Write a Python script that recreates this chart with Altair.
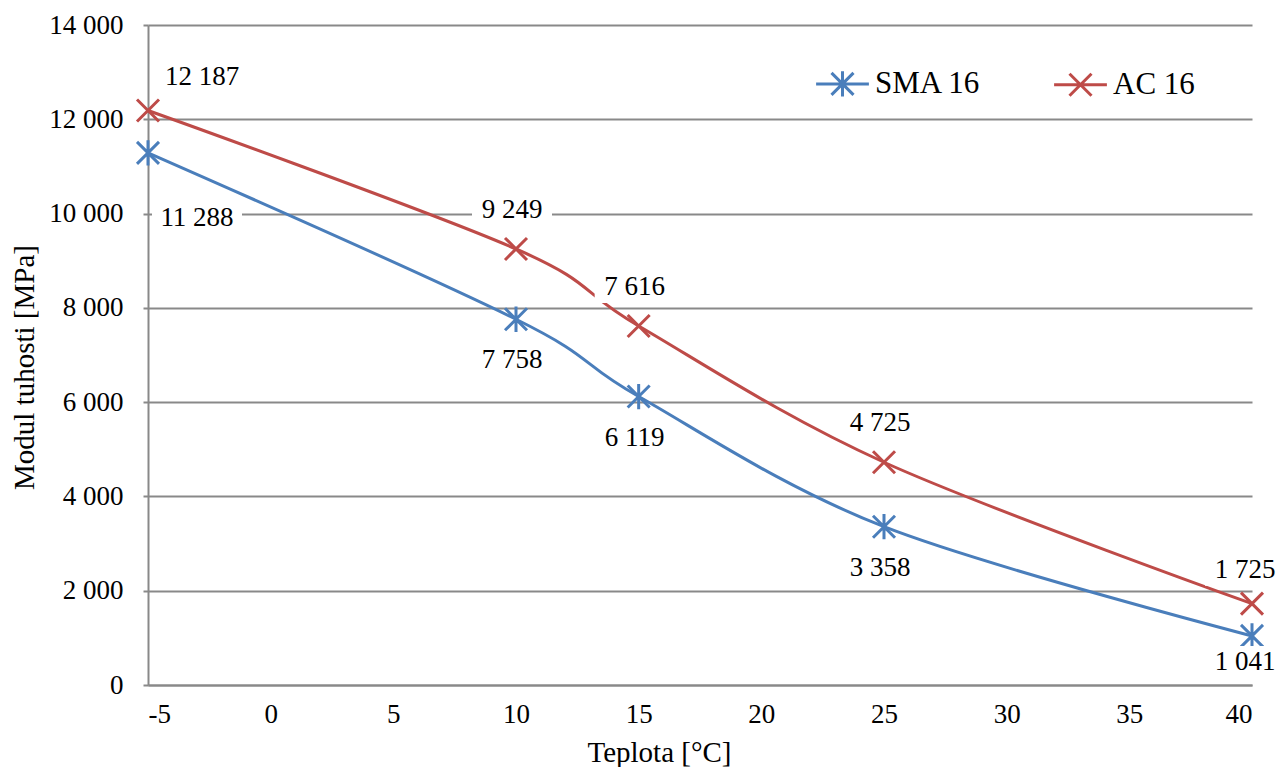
import altair as alt
import pandas as pd

# ---- data ----
temps = [-5, 10, 15, 25, 40]
sma_values = [11288, 7758, 6119, 3358, 1041]
ac_values = [12187, 9249, 7616, 4725, 1725]
series_names = ["SMA 16", "AC 16"]
series_colors = ["#4A7EBB", "#BE4B48"]
x_ticks = [-5, 0, 5, 10, 15, 20, 25, 30, 35, 40]
y_ticks = [0, 2000, 4000, 6000, 8000, 10000, 12000, 14000]

rows = []
for t, v in zip(temps, sma_values):
    rows.append({"series": "SMA 16", "temp": t, "value": v})
for t, v in zip(temps, ac_values):
    rows.append({"series": "AC 16", "temp": t, "value": v})
df = pd.DataFrame(rows)

FONT = "Liberation Serif"
GRID = "#898989"

# marker shapes (unit square paths)
X_PATH = "M-1,-1L1,1M1,-1L-1,1"
AST_PATH = "M-1,-1L1,1M1,-1L-1,1M0,-1.15L0,1.15"
# legend symbols: marker with a line through it
X_LEG = "M-1,-1L1,1M1,-1L-1,1M-2.4,0L2.4,0"
AST_LEG = "M-1,-1L1,1M1,-1L-1,1M0,-1.15L0,1.15M-2.4,0L2.4,0"

base = alt.Chart(df).transform_calculate(
    lbl="replace(format(datum.value, ','), ',', ' ')"
)

xenc = alt.X(
    "temp:Q",
    scale=alt.Scale(domain=[-5, 40], nice=False, zero=False),
    axis=alt.Axis(
        values=x_ticks, grid=False, ticks=False, domainColor=GRID, domainWidth=2,
        labelFont=FONT, labelFontSize=27, labelColor="black", labelPadding=16,
        labelExpr="'' + datum.value",
        title="Teplota [°C]", titleFont=FONT, titleFontSize=29, titleFontWeight="normal",
        titleColor="black", titleX=511, titleY=67, titleBaseline="middle",
        titleAlign="center",
    ),
)
yenc = alt.Y(
    "value:Q",
    scale=alt.Scale(domain=[0, 14000], nice=False),
    axis=alt.Axis(
        values=y_ticks, grid=True, gridColor=GRID, gridWidth=2, domainColor=GRID,
        domainWidth=2, tickColor=GRID, tickWidth=2, tickSize=5,
        labelFont=FONT, labelFontSize=27, labelColor="black", labelPadding=20,
        labelExpr="replace(format(datum.value, ','), ',', ' ')",
        title="Modul tuhosti [MPa]", titleFont=FONT, titleFontSize=29,
        titleFontWeight="normal", titleColor="black", titleX=-124, titleY=342,
        titleAlign="center", titleBaseline="middle", titleAngle=270,
    ),
)


def cscale():
    return alt.Scale(domain=series_names, range=series_colors)


lines = base.mark_line(interpolate="cardinal", strokeWidth=3).encode(
    x=xenc, y=yenc,
    color=alt.Color("series:N", scale=cscale(), legend=None),
    detail="series:N",
)

points = base.mark_point(filled=False, strokeWidth=3, size=484, opacity=1).encode(
    x="temp:Q", y="value:Q",
    color=alt.Color("series:N", scale=cscale(), legend=None),
    shape=alt.Shape("series:N", scale=alt.Scale(domain=series_names, range=[AST_PATH, X_PATH]), legend=None),
)

leg = alt.Legend(
    orient="none", legendX=679, legendY=43, direction="horizontal", title=None,
    labelFont=FONT, labelFontSize=31, labelColor="black", symbolSize=484,
    symbolStrokeWidth=3, symbolOpacity=1, labelOffset=17, columnPadding=67,
    padding=0, labelLimit=0,
)
legend_driver = base.mark_point(filled=False, strokeWidth=3, size=484, opacity=0).encode(
    x="temp:Q", y="value:Q",
    color=alt.Color("series:N", scale=cscale(), legend=leg),
    shape=alt.Shape("series:N", scale=alt.Scale(domain=series_names, range=[AST_LEG, X_LEG]), legend=leg),
)


def label_layers(series, sel_temps, dx, dy, w, h=32):
    hh = round(h / w, 4)
    rect = f"M-1,-{hh}L1,-{hh}L1,{hh}L-1,{hh}Z"
    temps_js = "[" + ",".join(str(t) for t in sel_temps) + "]"
    sub = base.transform_filter(
        f"datum.series == '{series}' && indexof({temps_js}, datum.temp) >= 0"
    )
    bg = sub.mark_point(shape=rect, size=w * w, filled=True, color="white", opacity=1,
                        strokeWidth=0, xOffset=dx, yOffset=dy).encode(x="temp:Q", y="value:Q")
    txt = sub.mark_text(font=FONT, fontSize=27, color="black", dx=dx, dy=dy,
                        align="center", baseline="middle").encode(
        x="temp:Q", y="value:Q", text="lbl:N")
    return [bg, txt]


lbls = []
lbls += label_layers("AC 16", [-5], 54, -33, 94)
lbls += label_layers("SMA 16", [-5], 49, 65, 90)
lbls += label_layers("AC 16", [10, 15, 25], -4, -39, 80)
lbls += label_layers("SMA 16", [10, 15, 25], -4, 41, 80)
lbls += label_layers("AC 16", [40], -7, -34, 80)
lbls += label_layers("SMA 16", [40], -7, 26, 80)

chart = alt.layer(lines, points, legend_driver, *lbls).resolve_scale(
    color="independent", shape="independent"
).properties(
    width=1104, height=660,
    autosize=alt.AutoSizeParams(type="none"),
    padding={"left": 148, "top": 25, "right": 24, "bottom": 82},
    background="white",
).configure_view(stroke=None)

chart.save("out.html", embed_options={"renderer": "svg", "actions": False})
